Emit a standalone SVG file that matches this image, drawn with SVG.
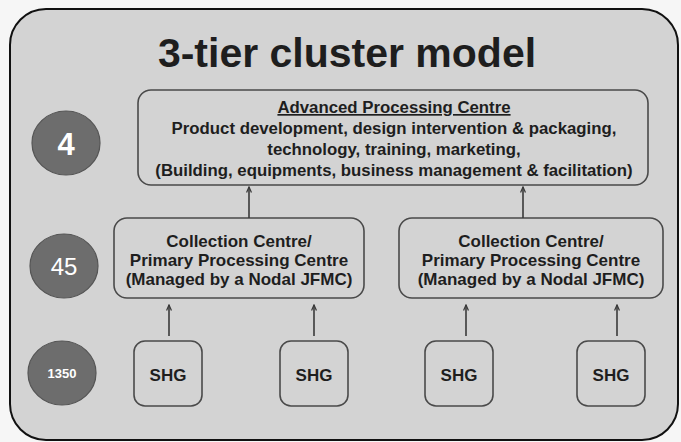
<svg xmlns="http://www.w3.org/2000/svg" width="681" height="442" viewBox="0 0 681 442">
  <defs>
    <marker id="arr" viewBox="0 0 10 10" refX="9" refY="5" markerWidth="7" markerHeight="7" orient="auto" markerUnits="userSpaceOnUse">
      <path d="M1,1.5 L9,5 L1,8.5" fill="none" stroke="#3a3a3a" stroke-width="1.8"/>
    </marker>
  </defs>
  <style>
    .box { fill: none; stroke: #4a4a4a; stroke-width: 1.6; }
    .badge { fill: #6d6d6d; stroke: #555; stroke-width: 1.2; }
    .t { font-family: "Liberation Sans", Arial, sans-serif; font-weight: bold; fill: #1e1e1e; text-anchor: middle; }
    .apc { font-size: 16.8px; }
    .cc { font-size: 17px; }
    .shg { font-size: 17px; }
    .w { font-family: "Liberation Sans", Arial, sans-serif; fill: #ffffff; text-anchor: middle; }
    .conn { stroke: #3a3a3a; stroke-width: 1.6; fill: none; marker-end: url(#arr); }
  </style>
  <rect x="0" y="0" width="681" height="442" fill="#f6f6f6"/>
  <g id="frame">
    <rect x="10" y="9" width="668" height="431" rx="36" ry="36" fill="#d3d3d3" stroke="#111" stroke-width="2"/>
  </g>
  <g id="title">
    <text class="t" x="347" y="67" font-size="41" fill="#222">3-tier cluster model</text>
  </g>
  <g id="badge-4">
    <ellipse class="badge" cx="66" cy="143" rx="34" ry="32"/>
    <text class="w" x="66" y="155" font-size="31" font-weight="bold">4</text>
  </g>
  <g id="badge-45">
    <ellipse class="badge" cx="64" cy="266" rx="34" ry="32"/>
    <text class="w" x="64" y="275" font-size="24">45</text>
  </g>
  <g id="badge-1350">
    <ellipse class="badge" cx="62" cy="373" rx="34" ry="32"/>
    <text class="w" x="62" y="378" font-size="13" font-weight="bold">1350</text>
  </g>
  <g id="apc">
    <rect class="box" x="138" y="90" width="510" height="95" rx="13"/>
    <text class="t apc" x="394" y="113" text-decoration="underline">Advanced Processing Centre</text>
    <text class="t apc" x="394" y="134">Product development, design intervention &amp; packaging,</text>
    <text class="t apc" x="394" y="155">technology, training, marketing,</text>
    <text class="t apc" x="394" y="176">(Building, equipments, business management &amp; facilitation)</text>
  </g>
  <g id="cc-left">
    <rect class="box" x="114" y="218" width="250" height="80" rx="13"/>
    <text class="t cc" x="239" y="247">Collection Centre/</text>
    <text class="t cc" x="239" y="266">Primary Processing Centre</text>
    <text class="t cc" x="239" y="285">(Managed by a Nodal JFMC)</text>
  </g>
  <g id="cc-right">
    <rect class="box" x="399" y="218" width="264" height="80" rx="13"/>
    <text class="t cc" x="531" y="247">Collection Centre/</text>
    <text class="t cc" x="531" y="266">Primary Processing Centre</text>
    <text class="t cc" x="531" y="285">(Managed by a Nodal JFMC)</text>
  </g>
  <g id="shg-1">
    <rect class="box" x="134" y="341" width="68" height="65" rx="11"/>
    <text class="t shg" x="168" y="381">SHG</text>
  </g>
  <g id="shg-2">
    <rect class="box" x="280" y="341" width="68" height="65" rx="11"/>
    <text class="t shg" x="314" y="381">SHG</text>
  </g>
  <g id="shg-3">
    <rect class="box" x="425" y="341" width="68" height="65" rx="11"/>
    <text class="t shg" x="459" y="381">SHG</text>
  </g>
  <g id="shg-4">
    <rect class="box" x="577" y="341" width="68" height="65" rx="11"/>
    <text class="t shg" x="611" y="381">SHG</text>
  </g>
  <g id="connectors">
    <line class="conn" x1="249" y1="218" x2="249" y2="187"/>
    <line class="conn" x1="523" y1="218" x2="523" y2="187"/>
    <line class="conn" x1="169" y1="336" x2="169" y2="305"/>
    <line class="conn" x1="314" y1="336" x2="314" y2="305"/>
    <line class="conn" x1="466" y1="336" x2="466" y2="305"/>
    <line class="conn" x1="617" y1="336" x2="617" y2="305"/>
  </g>
</svg>
